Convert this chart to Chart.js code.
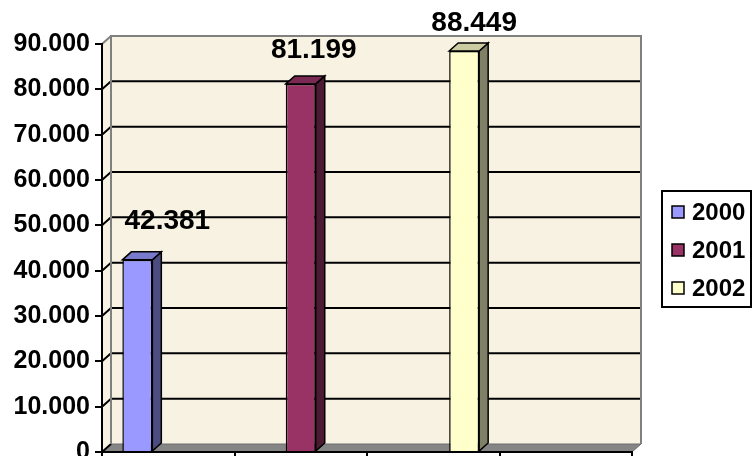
<!DOCTYPE html>
<html>
<head>
<meta charset="utf-8">
<script src="https://cdn.jsdelivr.net/npm/chart.js@4.4.0/dist/chart.umd.min.js"></script>
<style>
  html, body { margin: 0; padding: 0; background: #fff; }
</style>
</head>
<body>
<canvas id="grafico" width="752" height="456"></canvas>
<script>
// Dados (4 categorias sem rótulo, uma série por ano)
const categorias = ['', '', '', ''];
const anos = ['2000', '2001', '2002'];
const valores2000 = [42381, null, null, null];
const valores2001 = [null, 81199, null, null];
const valores2002 = [null, null, 88449, null];
const yTicks = [0, 10000, 20000, 30000, 40000, 50000, 60000, 70000, 80000, 90000];

// Cores estilo Excel (frente, lateral, topo)
const corFrente = ['#9999ff', '#993366', '#ffffcc'];
const corLado = ['#4c4c80', '#4c1a33', '#808066'];
const corTopo = ['#7a7acc', '#7a2952', '#cccca3'];
const corParede = '#f8f2e3';

const DX = 9, DY = 8; // profundidade 3D

function milhar(v) {
    return String(v).replace(/\B(?=(\d{3})+(?!\d))/g, '.');
}

// Paredes, piso e linhas de grade no fundo
const paredes = {
    id: 'paredes',
    beforeDraw(chart) {
        const { ctx, chartArea: a, scales } = chart;
        const L = a.left, R = a.right, T = a.top, B = a.bottom;
        ctx.save();
        ctx.fillStyle = corParede;
        ctx.beginPath();
        ctx.moveTo(L, T); ctx.lineTo(L + DX, T - DY); ctx.lineTo(R + DX, T - DY);
        ctx.lineTo(R + DX, B - DY); ctx.lineTo(R, B); ctx.lineTo(L, B);
        ctx.closePath();
        ctx.fill();

        // piso
        ctx.fillStyle = '#858585';
        ctx.beginPath();
        ctx.moveTo(L, B); ctx.lineTo(L + DX, B - DY); ctx.lineTo(R + DX, B - DY); ctx.lineTo(R, B);
        ctx.closePath();
        ctx.fill();
        ctx.strokeStyle = '#6e6e6e';
        ctx.lineWidth = 1;
        ctx.stroke();

        // grade
        ctx.strokeStyle = '#000';
        ctx.lineWidth = 2;
        yTicks.slice(1, -1).forEach(v => {
            const y = scales.y.getPixelForValue(v);
            ctx.beginPath();
            ctx.moveTo(L, y); ctx.lineTo(L + DX, y - DY); ctx.lineTo(R + DX, y - DY);
            ctx.stroke();
        });
        ctx.beginPath();
        ctx.moveTo(L, B); ctx.lineTo(L + DX, B - DY);
        ctx.stroke();

        // bordas cinzas da parede
        ctx.strokeStyle = '#808080';
        ctx.lineWidth = 2;
        ctx.beginPath();
        ctx.moveTo(L + DX, B - DY); ctx.lineTo(L + DX, T - DY); ctx.lineTo(R + DX, T - DY); ctx.lineTo(R + DX, B - DY);
        ctx.moveTo(L, T); ctx.lineTo(L + DX, T - DY);
        ctx.stroke();
        ctx.restore();
    }
};

// Faces laterais/topo das colunas e rótulos de valor
const colunas3d = {
    id: 'colunas3d',
    afterDatasetsDraw(chart, args, opts) {
        const ctx = chart.ctx;
        ctx.save();
        ctx.lineWidth = 1.5;
        ctx.strokeStyle = '#000';
        chart.data.datasets.forEach((ds, i) => {
            const meta = chart.getDatasetMeta(i);
            meta.data.forEach((bar, j) => {
                const v = ds.data[j];
                if (v === null) return;
                const p = bar.getProps(['x', 'y', 'base', 'width'], true);
                const l = p.x - p.width / 2, r = p.x + p.width / 2;
                // lateral
                ctx.fillStyle = corLado[i];
                ctx.beginPath();
                ctx.moveTo(r, p.y); ctx.lineTo(r + DX, p.y - DY); ctx.lineTo(r + DX, p.base - DY); ctx.lineTo(r, p.base);
                ctx.closePath();
                ctx.fill(); ctx.stroke();
                // topo
                ctx.fillStyle = corTopo[i];
                ctx.beginPath();
                ctx.moveTo(l, p.y); ctx.lineTo(l + DX, p.y - DY); ctx.lineTo(r + DX, p.y - DY); ctx.lineTo(r, p.y);
                ctx.closePath();
                ctx.fill(); ctx.stroke();
                // rótulo
                const n = opts.nudge[i];
                ctx.fillStyle = '#000';
                ctx.font = 'bold 28px Arial, "Liberation Sans", sans-serif';
                ctx.textAlign = 'center';
                ctx.textBaseline = 'middle';
                ctx.fillText(milhar(v), p.x + n[0], p.y + n[1]);
            });
        });
        ctx.restore();
    }
};

// Legenda com moldura, como no Excel
const legenda = {
    id: 'legenda',
    afterDraw(chart, args, o) {
        const ctx = chart.ctx;
        ctx.save();
        ctx.fillStyle = '#fff';
        ctx.fillRect(o.left, o.top, o.right - o.left, o.bottom - o.top);
        ctx.strokeStyle = '#000';
        ctx.lineWidth = 2;
        ctx.strokeRect(o.left, o.top, o.right - o.left, o.bottom - o.top);
        ctx.font = 'bold 24px Arial, "Liberation Sans", sans-serif';
        ctx.textBaseline = 'middle';
        ctx.textAlign = 'left';
        chart.data.datasets.forEach((ds, i) => {
            const y = o.top + o.first + i * o.step;
            ctx.fillStyle = ds.backgroundColor;
            ctx.fillRect(o.left + 10, y - 6, 12, 12);
            ctx.lineWidth = 1.5;
            ctx.strokeRect(o.left + 10, y - 6, 12, 12);
            ctx.fillStyle = '#000';
            ctx.fillText(ds.label, o.left + 30, y + 1);
        });
        ctx.restore();
    }
};

const ctx = document.getElementById('grafico').getContext('2d');
new Chart(ctx, {
    type: 'bar',
    data: {
        labels: categorias,
        datasets: [
            { label: anos[0], data: valores2000, backgroundColor: corFrente[0] },
            { label: anos[1], data: valores2001, backgroundColor: corFrente[1] },
            { label: anos[2], data: valores2002, backgroundColor: corFrente[2] }
        ]
    },
    options: {
        responsive: false,
        animation: false,
        layout: { padding: { top: 44, right: 120, bottom: 0, left: 0 } },
        datasets: {
            bar: {
                categoryPercentage: 0.7,
                barPercentage: 0.97,
                borderColor: '#000',
                borderWidth: 1.5
            }
        },
        scales: {
            x: {
                grid: { drawOnChartArea: false, drawTicks: true, tickLength: 5, color: '#000', lineWidth: 2, offset: true },
                border: { display: true, color: '#000', width: 2 },
                ticks: { display: false },
                afterFit(s) { s.height = 4; s.paddingLeft = 0; s.paddingRight = 0; }
            },
            y: {
                min: yTicks[0],
                max: yTicks[yTicks.length - 1],
                grid: { drawOnChartArea: false, drawTicks: true, tickLength: 7, color: '#000', lineWidth: 2 },
                border: { display: true, color: '#000', width: 2 },
                ticks: {
                    stepSize: yTicks[1] - yTicks[0],
                    padding: 5,
                    color: '#000',
                    font: { family: 'Arial, "Liberation Sans", sans-serif', size: 25, weight: 'bold' },
                    callback: v => milhar(v)
                },
                afterFit(s) { s.width = 102; s.paddingTop = 0; s.paddingBottom = 0; }
            }
        },
        plugins: {
            legend: { display: false },
            tooltip: { enabled: false },
            colunas3d: { nudge: [[30, -39], [13, -34], [10, -28]] },
            legenda: { left: 662, top: 191, right: 751, bottom: 307, first: 21, step: 38 }
        }
    },
    plugins: [paredes, colunas3d, legenda]
});
</script>
</body>
</html>
